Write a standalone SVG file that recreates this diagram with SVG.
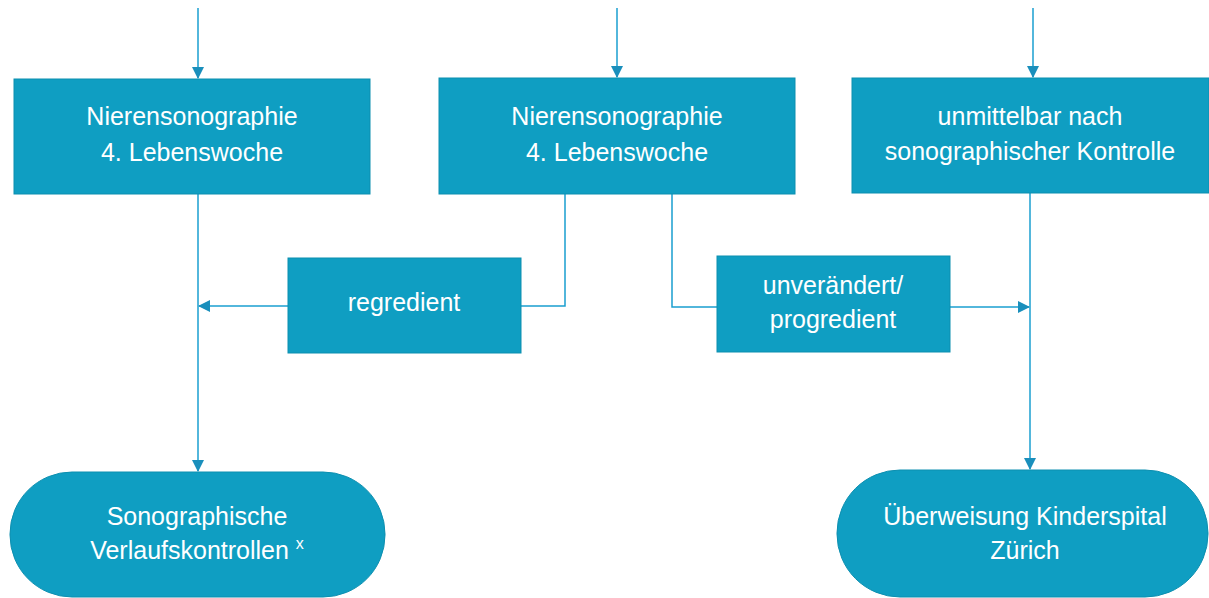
<svg xmlns="http://www.w3.org/2000/svg" width="1209" height="598" viewBox="0 0 1209 598">
<style>
.box{fill:#0f9ec2;stroke:#0c8fb0;stroke-width:1}
.t{font-family:"Liberation Sans",Arial,sans-serif;font-size:25px;fill:#ffffff;text-anchor:middle}
.c{fill:none;stroke:#1a9fd0;stroke-width:1.5}
</style>
<defs>
<marker id="ah" markerWidth="12" markerHeight="12" refX="11" refY="6" orient="auto" markerUnits="userSpaceOnUse">
<path d="M0,0 L12,6 L0,12 Z" fill="#1a8fbc"/>
</marker>
</defs>
<rect width="1209" height="598" fill="#ffffff"/>
<g id="connectors">
<path class="c" d="M198,8 V78" marker-end="url(#ah)"/>
<path class="c" d="M617,8 V77" marker-end="url(#ah)"/>
<path class="c" d="M1033,8 V77" marker-end="url(#ah)"/>
<path class="c" d="M198,194 V471" marker-end="url(#ah)"/>
<path class="c" d="M1030,193 V469" marker-end="url(#ah)"/>
<path class="c" d="M565,194 V306 H521"/>
<path class="c" d="M288,306 H199" marker-end="url(#ah)"/>
<path class="c" d="M672,194 V307 H717"/>
<path class="c" d="M950,307 H1029" marker-end="url(#ah)"/>
</g>
<g id="n1">
<rect class="box" x="14" y="79" width="356" height="115"/>
<text class="t" x="192" y="125">Nierensonographie</text>
<text class="t" x="192" y="161">4. Lebenswoche</text>
</g>
<g id="n2">
<rect class="box" x="439" y="78" width="356" height="116"/>
<text class="t" x="617" y="125">Nierensonographie</text>
<text class="t" x="617" y="161">4. Lebenswoche</text>
</g>
<g id="n3">
<rect class="box" x="852" y="78" width="357" height="115"/>
<text class="t" x="1030" y="125">unmittelbar nach</text>
<text class="t" x="1030" y="160">sonographischer Kontrolle</text>
</g>
<g id="n4">
<rect class="box" x="288" y="258" width="233" height="95"/>
<text class="t" x="404" y="311">regredient</text>
</g>
<g id="n5">
<rect class="box" x="717" y="256" width="233" height="96"/>
<text class="t" x="833" y="294">unverändert/</text>
<text class="t" x="833" y="328">progredient</text>
</g>
<g id="n6">
<rect class="box" x="10" y="472" width="375" height="125" rx="62" ry="62"/>
<text class="t" x="197" y="525">Sonographische</text>
<text class="t" x="197" y="559">Verlaufskontrollen <tspan font-size="16" dy="-10">x</tspan></text>
</g>
<g id="n7">
<rect class="box" x="837" y="470" width="371" height="127" rx="63" ry="63"/>
<text class="t" x="1025" y="525">Überweisung Kinderspital</text>
<text class="t" x="1025" y="559">Zürich</text>
</g>
</svg>
